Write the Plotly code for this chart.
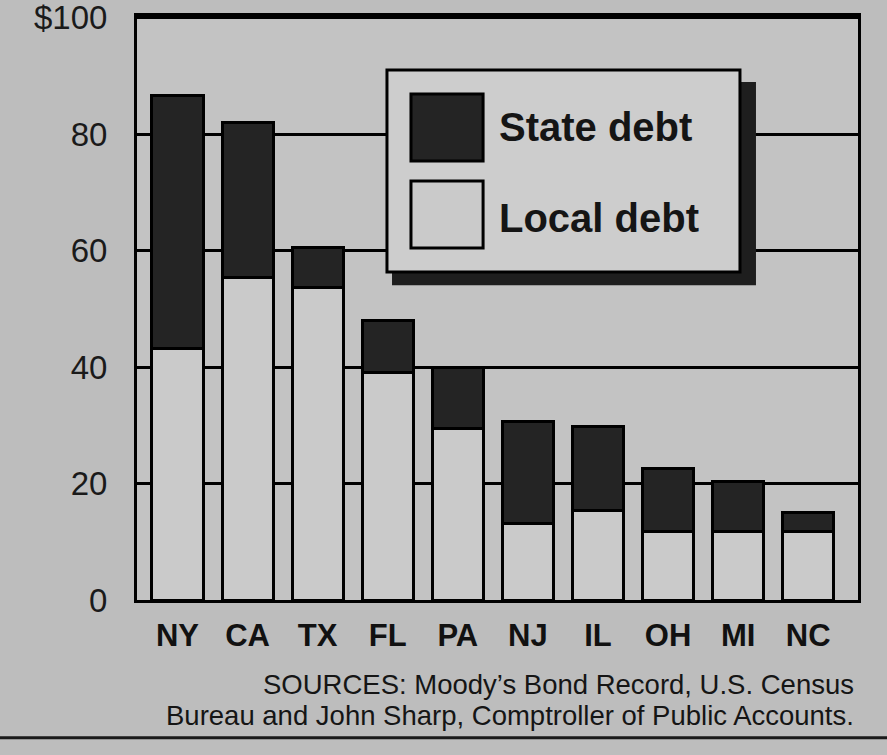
import plotly.graph_objects as go

states = ["NY", "CA", "TX", "FL", "PA", "NJ", "IL", "OH", "MI", "NC"]
local_debt = [43.2, 55.4, 53.7, 39.0, 29.5, 13.2, 15.4, 11.7, 11.7, 11.8]
state_debt = [43.4, 26.6, 6.8, 9.0, 10.5, 17.5, 14.4, 10.8, 8.7, 3.3]
y_tickvals = [0, 20, 40, 60, 80, 100]
y_ticktext = ["0", "20", "40", "60", "80", "$100"]

PAPER = "#bdbdbd"
PLOT = "#c3c3c3"
LIGHT = "#cacaca"
DARK = "#242424"
FONT = "Liberation Sans, Arial, sans-serif"

fig = go.Figure()
fig.add_trace(go.Bar(x=states, y=local_debt, name="Local debt", width=0.73,
                     marker=dict(color=LIGHT, line=dict(color="black", width=3))))
fig.add_trace(go.Bar(x=states, y=state_debt, name="State debt", width=0.73,
                     marker=dict(color=DARK, line=dict(color="black", width=3))))

fig.update_layout(
    width=887, height=755,
    barmode="stack",
    showlegend=False,
    paper_bgcolor=PAPER,
    plot_bgcolor=PLOT,
    margin=dict(l=137, r=29, t=16, b=155),
    font=dict(family=FONT, color="#111111"),
)
fig.update_xaxes(
    automargin=False,
    range=[-0.578, 9.71],
    showline=True, mirror=True, linecolor="black", linewidth=3,
    showgrid=False,
    ticks="outside", ticklen=6, tickcolor="rgba(0,0,0,0)",
    tickfont=dict(size=31, weight="bold", color="#111111"),
)
fig.update_yaxes(
    automargin=False,
    ticklabeloverflow="allow",
    range=[0, 100.3],
    tickvals=y_tickvals, ticktext=y_ticktext,
    showline=True, mirror=True, linecolor="black", linewidth=3,
    showgrid=True, gridcolor="black", gridwidth=2.5,
    zeroline=False,
    ticks="outside", ticklen=20, tickcolor="rgba(0,0,0,0)",
    tickfont=dict(size=33, color="#1a1a1a"),
)

# legend box with drop shadow
fig.add_shape(type="rect", xref="paper", yref="paper", x0=0.3537, x1=0.8585, y0=0.539, y1=0.887,
              fillcolor="#1e1e1e", line=dict(width=0), layer="above")
fig.add_shape(type="rect", xref="paper", yref="paper", x0=0.3467, x1=0.8363, y0=0.5616, y1=0.9075,
              fillcolor="#cdcdcd", line=dict(color="black", width=3), layer="above")
fig.add_shape(type="rect", xref="paper", yref="paper", x0=0.380, x1=0.480, y0=0.7517, y1=0.8664,
              fillcolor=DARK, line=dict(color="black", width=3), layer="above")
fig.add_shape(type="rect", xref="paper", yref="paper", x0=0.380, x1=0.480, y0=0.6027, y1=0.7175,
              fillcolor=LIGHT, line=dict(color="black", width=3), layer="above")
fig.add_annotation(xref="paper", yref="paper", x=0.4993, y=0.81, text="State debt",
                   showarrow=False, xanchor="left", yanchor="middle",
                   font=dict(size=40, weight="bold", color="#151515"))
fig.add_annotation(xref="paper", yref="paper", x=0.4993, y=0.654, text="Local debt",
                   showarrow=False, xanchor="left", yanchor="middle",
                   font=dict(size=40, weight="bold", color="#151515"))

# sources
fig.add_annotation(xref="paper", yref="paper", x=0.997, y=-0.1455,
                   text="SOURCES: Moody\u2019s Bond Record, U.S. Census",
                   showarrow=False, xanchor="right", yanchor="middle",
                   font=dict(size=27.5, color="#151515"))
fig.add_annotation(xref="paper", yref="paper", x=0.997, y=-0.1986,
                   text="Bureau and John Sharp, Comptroller of Public Accounts.",
                   showarrow=False, xanchor="right", yanchor="middle",
                   font=dict(size=27.5, color="#151515"))

# bottom rule
fig.add_shape(type="line", xref="paper", yref="paper", x0=-0.2, x1=1.05, y0=-0.236, y1=-0.236,
              line=dict(color="#1a1a1a", width=3))

fig.write_html("out.html",
               config={"displayModeBar": False},
               post_script="document.body.style.margin='0px';document.body.style.background='#bdbdbd';")
